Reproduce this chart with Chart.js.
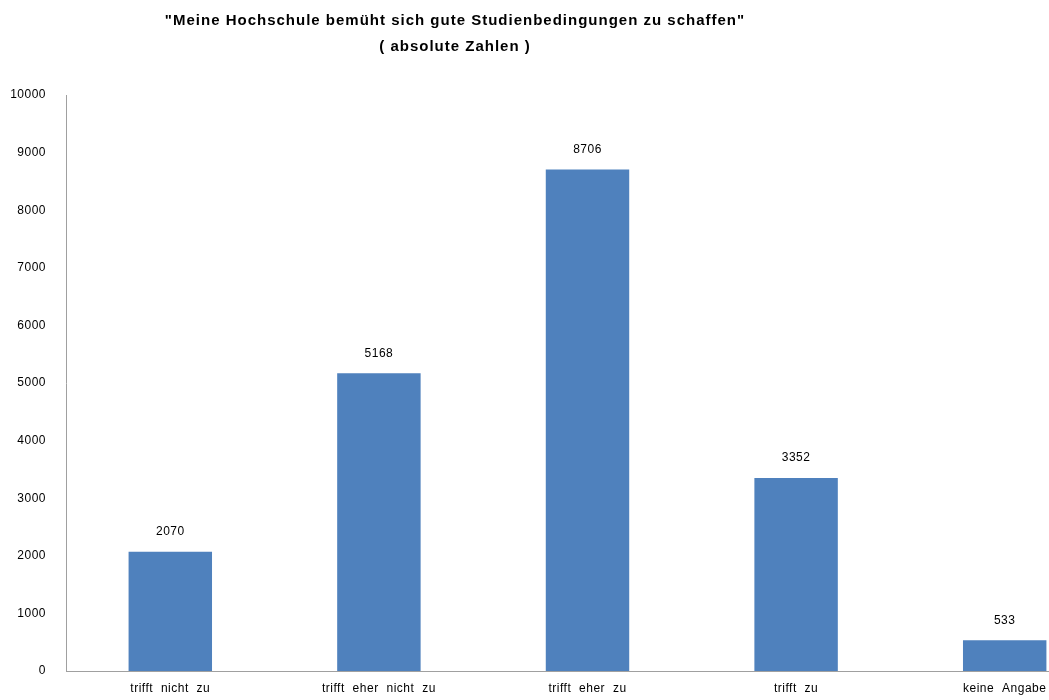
<!DOCTYPE html>
<html>
<head>
<meta charset="utf-8">
<script src="https://cdn.jsdelivr.net/npm/chart.js@4.4.1/dist/chart.umd.min.js"></script>
<style>
  html, body { margin: 0; padding: 0; background: #fff; overflow: hidden; }
  #wrap { position: relative; width: 1049px; height: 700px; overflow: hidden; }
  #box { position: absolute; left: 0; top: 0; width: 1109px; height: 700px; }
  .title { position: absolute; left: 0; width: 910px; text-align: center;
           font-family: "Liberation Sans", Arial, sans-serif; font-weight: bold;
           font-size: 15px; letter-spacing: 1px; color: #000; white-space: nowrap; }
</style>
</head>
<body>
<div id="wrap">
  <div id="box"><canvas id="c" width="1109" height="700"></canvas></div>
  <div class="title" style="top:11px">"Meine Hochschule bemüht sich gute Studienbedingungen zu schaffen"</div>
  <div class="title" style="top:37px">( absolute Zahlen )</div>
</div>
<script>
const categories = ["trifft nicht zu", "trifft eher nicht zu", "trifft eher zu", "trifft zu", "keine Angabe"];
const counts = [2070, 5168, 8706, 3352, 533];
const yTicks = [0, 1000, 2000, 3000, 4000, 5000, 6000, 7000, 8000, 9000, 10000];

const FONT = '"Liberation Sans", Arial, sans-serif';

// wider glyph and word spacing for all canvas text
const spacing = {
  id: 'spacing',
  beforeDraw(chart) {
    chart.ctx.letterSpacing = '0.5px';
    chart.ctx.wordSpacing = '4px';
  }
};

// writes each bar's value above it
const valueLabels = {
  id: 'valueLabels',
  afterDatasetsDraw(chart) {
    const ctx = chart.ctx;
    const meta = chart.getDatasetMeta(0);
    ctx.save();
    ctx.font = '12px ' + FONT;
    ctx.fillStyle = '#000';
    ctx.textAlign = 'center';
    ctx.textBaseline = 'bottom';
    meta.data.forEach((bar, i) => {
      ctx.fillText(String(counts[i]), bar.x, bar.y - 14);
    });
    ctx.restore();
  }
};

new Chart(document.getElementById('c'), {
  type: 'bar',
  data: {
    labels: categories,
    datasets: [{
      data: counts,
      backgroundColor: '#4F81BD',
      borderWidth: 0,
      categoryPercentage: 1.0,
      barPercentage: 0.4
    }]
  },
  options: {
    responsive: false,
    animation: false,
    events: [],
    layout: { padding: { top: 95, left: 0, right: 0, bottom: 0 } },
    plugins: { legend: { display: false }, tooltip: { enabled: false }, title: { display: false } },
    scales: {
      x: {
        grid: { display: false, drawTicks: false },
        border: { color: '#a0a0a0', width: 1 },
        ticks: { color: '#000', font: { family: FONT, size: 12 }, padding: 10, maxRotation: 0, autoSkip: false },
        afterFit(scale) { scale.height = 29; }
      },
      y: {
        min: 0, max: 10000,
        afterBuildTicks(scale) { scale.ticks = yTicks.map(v => ({ value: v })); },
        grid: { display: false, drawTicks: false },
        border: { color: '#a0a0a0', width: 1 },
        ticks: { color: '#000', font: { family: FONT, size: 12 }, padding: 20,
                 callback: (v) => String(v) },
        afterFit(scale) { scale.width = 66; }
      }
    }
  },
  plugins: [spacing, valueLabels]
});
</script>
</body>
</html>
